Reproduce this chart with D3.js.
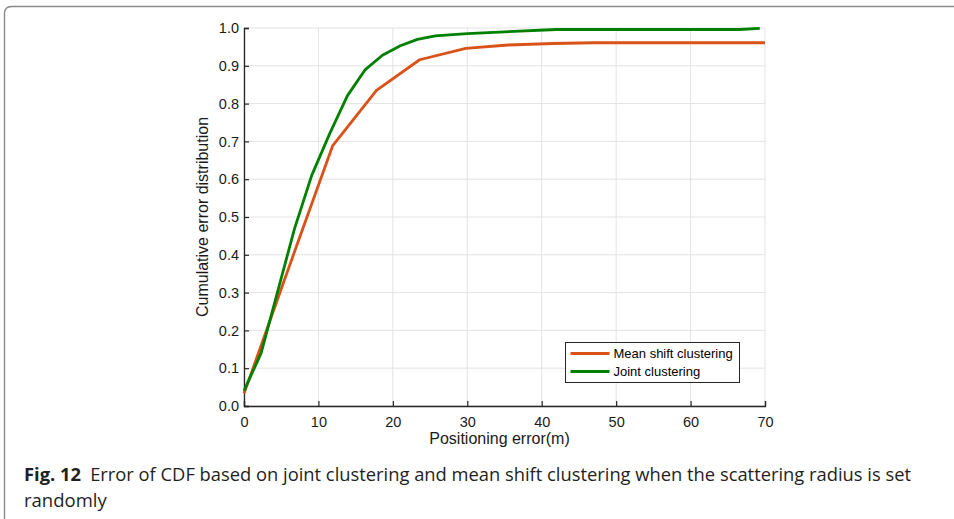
<!DOCTYPE html>
<html>
<head>
<meta charset="utf-8">
<script src="https://cdn.jsdelivr.net/npm/d3@7"></script>
<style>
  body { margin: 0; background: #fff; }
  svg { display: block; }
</style>
</head>
<body>
<div id="chart"></div>
<script>
// values
const meanShiftX = [0, 2.3, 7, 11.9, 17.8, 23.6, 29.8, 35.5, 41.5, 47, 70]
const meanShiftY = [0.033, 0.16, 0.42, 0.688, 0.835, 0.916, 0.946, 0.955, 0.959, 0.961, 0.961]
const jointX = [0, 2.3, 6.8, 9.1, 11.5, 13.9, 16.3, 18.6, 21, 23.3, 25.7, 30, 35, 42, 66.5, 69.3]
const jointY = [0.04, 0.14, 0.47, 0.61, 0.72, 0.821, 0.89, 0.928, 0.953, 0.97, 0.979, 0.985, 0.99, 0.996, 0.996, 0.999]
const xTicks = [0, 10, 20, 30, 40, 50, 60, 70]
const yTicks = [0, 0.1, 0.2, 0.3, 0.4, 0.5, 0.6, 0.7, 0.8, 0.9, 1.0]
const seriesNames = ["Mean shift clustering", "Joint clustering"]
const seriesColors = ["#d95319", "#008000"]

const width = 954
const height = 519
const margin = {top: 28, left: 244, right: 954 - 765, bottom: 519 - 406}
const axisFont = "'Liberation Sans', Arial, Helvetica, sans-serif"

const svg = d3.select("#chart").append("svg")
  .attr("width", width)
  .attr("height", height)

// figure frame with the rounded top-left corner
svg.append("path")
  .attr("d", `M4.5,${height + 5} L4.5,13.5 Q4.5,6.5 11.5,6.5 L${width + 5},6.5`)
  .attr("fill", "none")
  .attr("stroke", "#8a8a8a")
  .attr("stroke-width", 1.4)

const x = d3.scaleLinear().domain([0, 70]).range([margin.left, width - margin.right])
const y = d3.scaleLinear().domain([0, 1]).range([height - margin.bottom, margin.top])

// grid
const grid = svg.append("g").attr("class", "grid")
grid.selectAll(".gx").data(xTicks).enter().append("line")
  .attr("x1", d => x(d)).attr("x2", d => x(d))
  .attr("y1", y(0)).attr("y2", y(1))
  .attr("stroke", "#e3e3e3").attr("stroke-width", 1)
grid.selectAll(".gy").data(yTicks).enter().append("line")
  .attr("x1", x(0)).attr("x2", x(70))
  .attr("y1", d => y(d)).attr("y2", d => y(d))
  .attr("stroke", "#e3e3e3").attr("stroke-width", 1)

// axes, ticks pointing inward like matlab
const xAxis = svg.append("g")
  .attr("transform", `translate(0,${y(0)})`)
  .call(d3.axisBottom(x).tickValues(xTicks).tickSize(-5).tickPadding(11).tickFormat(d3.format("d")))
const yAxis = svg.append("g")
  .attr("transform", `translate(${x(0)},0)`)
  .call(d3.axisLeft(y).tickValues(yTicks).tickSize(-5).tickPadding(5).tickFormat(d3.format(".1f")))

;[xAxis, yAxis].forEach(ax => {
  ax.select(".domain").attr("stroke", "#262626").attr("stroke-width", 1.3)
  ax.selectAll(".tick line").attr("stroke", "#262626").attr("stroke-width", 1.2)
  ax.selectAll(".tick text")
    .attr("fill", "#1a1a1a")
    .style("font-family", axisFont)
    .style("font-size", "14.5px")
})

// axis labels
svg.append("text")
  .attr("x", (x(0) + x(70)) / 2 - 5)
  .attr("y", 444)
  .attr("text-anchor", "middle")
  .attr("fill", "#1a1a1a")
  .style("font-family", axisFont)
  .style("font-size", "16px")
  .text("Positioning error(m)")

svg.append("text")
  .attr("transform", `translate(208,${(y(0) + y(1)) / 2}) rotate(-90)`)
  .attr("text-anchor", "middle")
  .attr("fill", "#1a1a1a")
  .style("font-family", axisFont)
  .style("font-size", "16px")
  .text("Cumulative error distribution")

// lines
const series = [
  d3.zip(meanShiftX, meanShiftY),
  d3.zip(jointX, jointY)
]
const line = d3.line().x(d => x(d[0])).y(d => y(d[1]))

svg.selectAll(".series").data(series).enter().append("path")
  .attr("class", "series")
  .attr("d", line)
  .attr("fill", "none")
  .attr("stroke", (d, i) => seriesColors[i])
  .attr("stroke-width", 2.8)
  .attr("stroke-linejoin", "round")

// legend
const legend = svg.append("g").attr("transform", "translate(565.5,342.5)")
legend.append("rect")
  .attr("width", 174).attr("height", 40)
  .attr("fill", "#fff").attr("stroke", "#262626").attr("stroke-width", 1)
const items = legend.selectAll(".item").data(seriesNames).enter().append("g")
  .attr("transform", (d, i) => `translate(0,${11 + i * 18})`)
items.append("line")
  .attr("x1", 5).attr("x2", 44)
  .attr("stroke", (d, i) => seriesColors[i])
  .attr("stroke-width", 2.8)
items.append("text")
  .attr("x", 48).attr("y", 4.5)
  .attr("fill", "#000")
  .style("font-family", axisFont)
  .style("font-size", "13px")
  .text(d => d)

// caption
const captionFont = "'Open Sans', 'Noto Sans', sans-serif"
const cap1 = svg.append("text")
  .attr("x", 24).attr("y", 481)
  .attr("fill", "#231f20")
  .style("font-family", captionFont)
  .style("font-size", "18.5px")
  .attr("textLength", 887)
  .attr("lengthAdjust", "spacingAndGlyphs")
cap1.append("tspan").attr("font-weight", "bold").text("Fig. 12")
cap1.append("tspan").text("\u2002Error of CDF based on joint clustering and mean shift clustering when the scattering radius is set")

const cap2 = svg.append("text")
  .attr("x", 24).attr("y", 507)
  .attr("fill", "#231f20")
  .style("font-family", captionFont)
  .style("font-size", "18.5px")
  .text("randomly")
cap2.attr("textLength", cap2.node().getComputedTextLength() * 887 / cap1.node().getComputedTextLength())
  .attr("lengthAdjust", "spacingAndGlyphs")
</script>
</body>
</html>
